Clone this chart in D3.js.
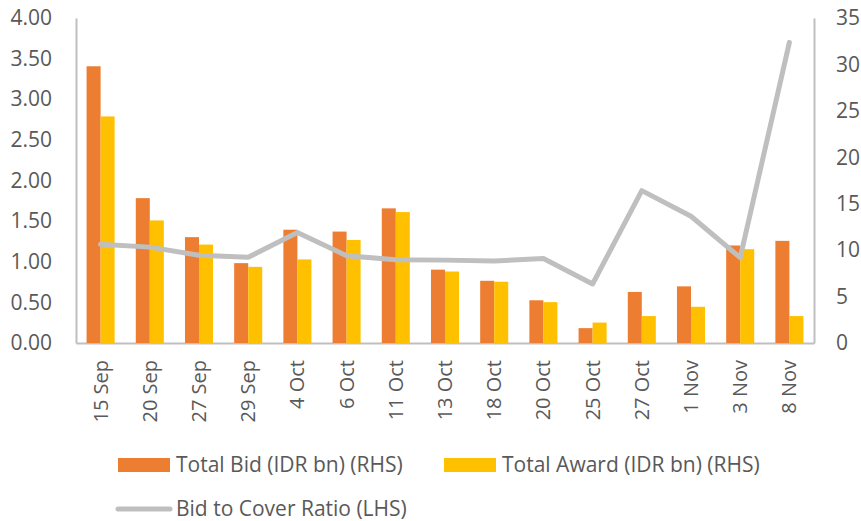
<head><script src="https://d3js.org/d3.v7.min.js"></script></head>

<body style="margin:0;background:#fff">
  <svg class="chart" width="861" height="521"></svg>

  <script>
    // Auction dates
    var dates = ["15 Sep", "20 Sep", "27 Sep", "29 Sep", "4 Oct", "6 Oct", "11 Oct", "13 Oct",
                 "18 Oct", "20 Oct", "25 Oct", "27 Oct", "1 Nov", "3 Nov", "8 Nov"];

    // Bars go on the right axis (0-35)
    var totalBid = [29.8, 15.6, 11.4, 8.6, 12.2, 12.0, 14.5, 7.9, 6.7, 4.6, 1.6, 5.5, 6.1, 10.5, 11.0];
    var totalAward = [24.4, 13.2, 10.6, 8.2, 9.0, 11.1, 14.1, 7.7, 6.6, 4.4, 2.2, 2.9, 3.9, 10.1, 2.9];

    // Line goes on the left axis (0-4)
    var bidToCover = [1.215, 1.18, 1.08, 1.055, 1.36, 1.075, 1.025, 1.02, 1.01, 1.04, 0.726, 1.875, 1.56, 1.05, 3.70];

    var leftTicks = [0, 0.5, 1, 1.5, 2, 2.5, 3, 3.5, 4];
    var rightTicks = [0, 5, 10, 15, 20, 25, 30, 35];

    var barNames = ["Total Bid (IDR bn) (RHS)", "Total Award (IDR bn) (RHS)"];
    var lineName = "Bid to Cover Ratio (LHS)";

    var font = "'Open Sans', sans-serif";
    var textColor = "#595959";
    var axisColor = "#bfbfbf";
    var colors = ["#ED7D31", "#FFC000"];

    var svg = d3.select(".chart");
    var plotLeft = 76, plotRight = 814, plotTop = 18, plotBottom = 343;

    var x = d3.scaleBand().domain(dates).range([plotLeft, plotRight]).paddingInner(0.43).paddingOuter(0.215);
    var xs = d3.scaleBand().domain([0, 1]).range([0, x.bandwidth()]);
    var yL = d3.scaleLinear().domain([0, 4]).range([plotBottom, plotTop]);
    var yR = d3.scaleLinear().domain([0, 35]).range([plotBottom, plotTop]);
    var center = function(d) { return x(d) + x.bandwidth() / 2; };

    // Left axis
    var axL = svg.append("g").attr("transform", "translate(" + plotLeft + ",0)")
      .call(d3.axisLeft(yL).tickValues(leftTicks).tickFormat(d3.format(".2f")).tickSize(0).tickPadding(24));
    // Right axis
    var axR = svg.append("g").attr("transform", "translate(" + plotRight + ",0)")
      .call(d3.axisRight(yR).tickValues(rightTicks).tickSize(0).tickPadding(22));
    // Bottom axis
    var axB = svg.append("g").attr("transform", "translate(0," + plotBottom + ")")
      .call(d3.axisBottom(x).tickSize(0));
    axB.selectAll("text")
      .attr("transform", "rotate(-90)")
      .attr("x", -17).attr("y", 0).attr("dy", "0.35em")
      .style("text-anchor", "end");

    [axL, axR, axB].forEach(function(a) {
      a.selectAll(".domain").attr("stroke", axisColor).attr("stroke-width", 2);
      a.selectAll("text").attr("fill", textColor).style("font-family", font).style("font-size", "21px");
    });
    axB.selectAll("text").style("font-size", "20px");

    // Bars
    var series = [totalBid, totalAward];
    series.forEach(function(vals, s) {
      svg.append("g").selectAll("rect").data(vals).enter().append("rect")
        .attr("x", function(d, i) { return x(dates[i]) + xs(s); })
        .attr("width", xs.bandwidth())
        .attr("y", function(d) { return yR(d); })
        .attr("height", function(d) { return yR(0) - yR(d); })
        .attr("fill", colors[s]);
    });

    // Line
    var line = d3.line()
      .x(function(d, i) { return center(dates[i]); })
      .y(function(d) { return yL(d); });
    svg.append("path").datum(bidToCover)
      .attr("d", line)
      .attr("fill", "none")
      .attr("stroke", "#bfbfbf")
      .attr("stroke-width", 5)
      .attr("stroke-linejoin", "round")
      .attr("stroke-linecap", "round");

    // Legend
    var legend = svg.append("g").style("font-family", font).style("font-size", "21px");
    var legendItems = [
      { name: barNames[0], x: 118, y: 465, color: colors[0], type: "bar" },
      { name: barNames[1], x: 444, y: 465, color: colors[1], type: "bar" },
      { name: lineName, x: 118, y: 509, color: "#bfbfbf", type: "line" }
    ];
    legendItems.forEach(function(it) {
      if (it.type === "bar") {
        legend.append("rect").attr("x", it.x).attr("y", it.y - 7).attr("width", 52).attr("height", 14).attr("fill", it.color);
      } else {
        legend.append("line").attr("x1", it.x).attr("x2", it.x + 52).attr("y1", it.y).attr("y2", it.y)
          .attr("stroke", it.color).attr("stroke-width", 5).attr("stroke-linecap", "round");
      }
      legend.append("text").attr("x", it.x + 58).attr("y", it.y).attr("dy", "0.35em")
        .attr("fill", textColor).text(it.name);
    });
  </script>
</body>
